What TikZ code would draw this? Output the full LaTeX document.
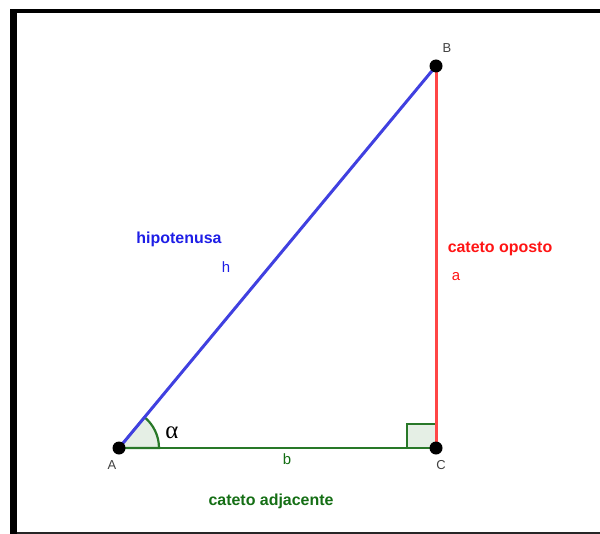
\documentclass[tikz,border=0pt]{standalone}
\usepackage{fontspec}
\setmainfont{Liberation Sans}
\newfontfamily\greekfont{Liberation Serif}
\usepackage{tikz}
\usetikzlibrary{calc}
\definecolor{hipblue}{RGB}{64,64,224}
\definecolor{hiptext}{RGB}{30,30,230}
\definecolor{opred}{RGB}{255,70,70}
\definecolor{optext}{RGB}{255,20,20}
\definecolor{adjgreen}{RGB}{40,120,40}
\definecolor{adjtext}{RGB}{20,110,20}

\begin{document}
\begin{tikzpicture}[x=1bp, y=-1bp,
    side/.style={line width=3bp},
    vertex/.style={circle, fill=black, inner sep=0pt, minimum size=13bp},
    ptlabel/.style={font=\fontsize{13}{15}\selectfont, text=black!75},
    sidename/.style={font=\bfseries\fontsize{16}{18}\selectfont},
    sidelabel/.style={font=\fontsize{15}{17}\selectfont}]
\useasboundingbox (0,0) rectangle (600,534);
% frame
\fill[black] (10,9) rectangle (17,534);
\fill[black] (10,9) rectangle (600,13);
\draw[black!85, line width=1.5bp] (17,533) -- (600,533);
% vertices
\coordinate (a) at (119,448);
\coordinate (b) at (436,66);
\coordinate (c) at (436,448);
% angle marks
\filldraw[adjgreen, fill=adjgreen!12, line width=2.2bp] (a) -- ($(a)+(40,0)$) arc[start angle=0, end angle=-50.3, radius=40] -- cycle;
\filldraw[adjgreen, fill=adjgreen!12, line width=2.2bp] ($(c)+(-29,0)$) rectangle ($(c)+(0,-24)$);
% sides
\draw[side, hipblue] (a) -- (b);
\draw[side, opred] (b) -- (c);
\draw[side, adjgreen, line width=2.6bp] (a) -- (c);
\node[vertex] (ptA) at (a) {};
\node[vertex] (ptB) at (b) {};
\node[vertex] (ptC) at (c) {};
% labels
\node[ptlabel] (labA) at (112,465) {A};
\node[ptlabel] (labB) at (447,48) {B};
\node[ptlabel] (labC) at (441,465) {C};
\node[font=\greekfont\fontsize{25}{26}\selectfont] (alpha) at (172,433) {α};
\node[sidename, text=hiptext] (hip) at (179,239) {hipotenusa};
\node[sidelabel, text=hiptext] (h) at (226,267) {h};
\node[sidename, text=optext] (op) at (500,249) {cateto oposto};
\node[sidelabel, text=optext] (lbla) at (456,277) {a};
\node[sidelabel, text=adjtext] (lblb) at (287,459) {b};
\node[sidename, text=adjtext] (adj) at (271,501) {cateto adjacente};
\end{tikzpicture}
\end{document}
